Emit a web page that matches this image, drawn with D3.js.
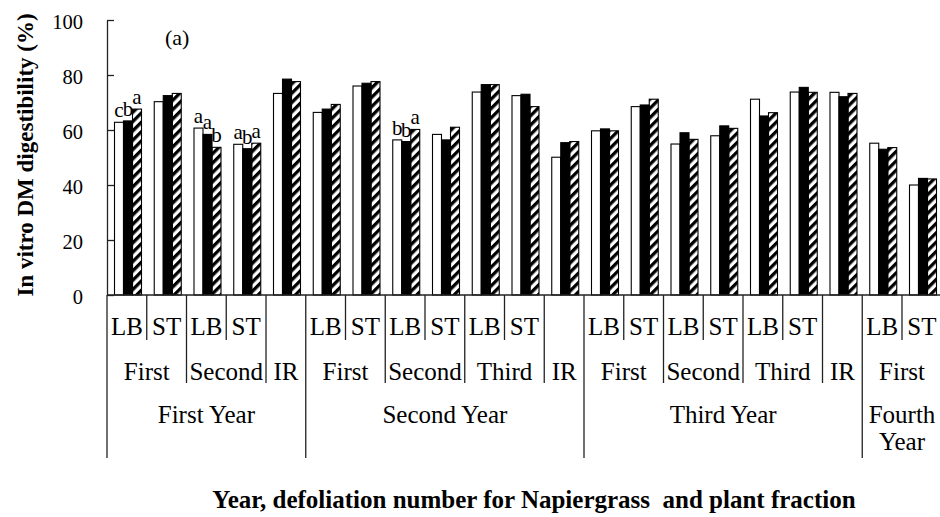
<!DOCTYPE html>
<html>
<head>
<meta charset="utf-8">
<script src="https://cdn.jsdelivr.net/npm/d3@7"></script>
<style>
  body { margin: 0; background: #fff; }
  svg text { font-family: "Liberation Serif", Tinos, "Times New Roman", Times, "DejaVu Serif", serif; fill: #000; }
</style>
</head>
<body>
<div id="chart"></div>
<script>
// one entry per bar group (21 groups)
const years = [
  'First Year', 'First Year', 'First Year', 'First Year', 'First Year',
  'Second Year', 'Second Year', 'Second Year', 'Second Year', 'Second Year', 'Second Year', 'Second Year',
  'Third Year', 'Third Year', 'Third Year', 'Third Year', 'Third Year', 'Third Year', 'Third Year',
  'Fourth Year', 'Fourth Year'
];
const defoliations = [
  'First', 'First', 'Second', 'Second', 'IR',
  'First', 'First', 'Second', 'Second', 'Third', 'Third', 'IR',
  'First', 'First', 'Second', 'Second', 'Third', 'Third', 'IR',
  'First', 'First'
];
const fractions = [
  'LB', 'ST', 'LB', 'ST', null,
  'LB', 'ST', 'LB', 'ST', 'LB', 'ST', null,
  'LB', 'ST', 'LB', 'ST', 'LB', 'ST', null,
  'LB', 'ST'
];

const seriesNames = ['open', 'solid', 'hatched'];
const openValues = [62.8, 70.3, 60.7, 54.8, 73.3, 66.4, 76.0, 56.4, 58.4, 73.8, 72.5, 50.1,
  59.7, 68.5, 54.9, 57.9, 71.2, 73.8, 73.7, 55.2, 40.0];
const solidValues = [63.3, 72.5, 58.4, 53.2, 78.5, 67.6, 77.0, 55.8, 56.4, 76.5, 73.0, 55.4,
  60.4, 69.1, 59.0, 61.5, 65.1, 75.5, 72.1, 53.0, 42.4];
const hatchedValues = [67.6, 73.3, 53.7, 55.2, 77.6, 69.3, 77.6, 60.2, 61.0, 76.5, 68.5, 55.8,
  59.7, 71.2, 56.6, 60.6, 66.3, 73.7, 73.3, 53.6, 42.2];

// significance letters: group index -> letters for open, solid, hatched
const sigGroups = [0, 2, 3, 7];
const sigLetters = [['c', 'b', 'a'], ['a', 'a', 'b'], ['a', 'b', 'a'], ['b', 'b', 'a']];

const yTicks = [0, 20, 40, 60, 80, 100];

const values = { open: openValues, solid: solidValues, hatched: hatchedValues };
const nGroups = years.length;
const serif = '"Liberation Serif", Tinos, "Times New Roman", Times, "DejaVu Serif", serif';

const W = 940, H = 517;
const svg = d3.select('#chart')
  .append('svg')
  .attr('width', W)
  .attr('height', H)
  .attr('font-family', serif);

const defs = svg.append('defs');
defs.append('pattern')
    .attr('id', 'hatch')
    .attr('patternUnits', 'userSpaceOnUse')
    .attr('width', 6.6)
    .attr('height', 6.6)
    .attr('patternTransform', 'rotate(45)')
  .append('rect')
    .attr('width', 3.3)
    .attr('height', 6.6)
    .attr('fill', '#000');

const x0 = 107, groupW = 39.75;
const x = d3.scaleBand()
  .domain(d3.range(nGroups))
  .range([x0, x0 + nGroups * groupW]);
const xs = d3.scaleBand()
  .domain(seriesNames)
  .range([7.5, 34.5]);
const y = d3.scaleLinear()
  .domain([0, 100])
  .range([295, 20]);

// y axis
const yAxis = svg.append('g')
  .attr('transform', `translate(${x0},0)`)
  .call(d3.axisLeft(y).tickValues(yTicks).tickSize(-7).tickSizeOuter(0).tickPadding(24));
yAxis.attr('font-family', serif);
yAxis.select('.domain').attr('stroke', '#222').attr('stroke-width', 1.3);
yAxis.selectAll('.tick line').attr('stroke', '#222').attr('stroke-width', 1.3);
yAxis.selectAll('.tick text')
  .attr('font-size', 20.5)
  .attr('dy', '0.4em');

// bars
const fills = { open: '#fff', solid: '#000', hatched: 'url(#hatch)' };
seriesNames.forEach(s => {
  svg.append('g')
    .selectAll('rect')
    .data(values[s])
    .join('rect')
      .attr('x', (d, i) => x(i) + xs(s))
      .attr('y', d => y(d))
      .attr('width', xs.bandwidth())
      .attr('height', d => y(0) - y(d))
      .attr('fill', fills[s])
      .attr('stroke', '#000')
      .attr('stroke-width', 1.1);
});

// significance letters
sigGroups.forEach((g, k) => {
  svg.append('g')
    .selectAll('text')
    .data(sigLetters[k])
    .join('text')
      .attr('x', (d, j) => x(g) + xs(seriesNames[j]) + xs.bandwidth() / 2)
      .attr('y', (d, j) => y(values[seriesNames[j]][g]) - 5)
      .attr('text-anchor', 'middle')
      .attr('font-size', 21)
      .text(d => d);
});

// x axis line
svg.append('line')
  .attr('x1', x0).attr('x2', x0 + nGroups * groupW)
  .attr('y1', y(0)).attr('y2', y(0))
  .attr('stroke', '#222').attr('stroke-width', 1.3);

// dividers
const levelBottom = { 1: 340, 2: 383, 3: 458 };
const boundaries = d3.range(nGroups + 1).map(i => {
  let level = 1;
  if (i === 0 || i === nGroups || years[i] !== years[i - 1]) level = 3;
  else if (defoliations[i] !== defoliations[i - 1]) level = 2;
  return { i, level };
});
svg.append('g')
  .selectAll('line')
  .data(boundaries)
  .join('line')
    .attr('x1', d => x0 + d.i * groupW)
    .attr('x2', d => x0 + d.i * groupW)
    .attr('y1', y(0))
    .attr('y2', d => levelBottom[d.level])
    .attr('stroke', '#222')
    .attr('stroke-width', 1.3);

// row 1: plant fraction
svg.append('g')
  .selectAll('text')
  .data(fractions.map((f, i) => ({ f, i })).filter(d => d.f))
  .join('text')
    .attr('x', d => x(d.i) + groupW / 2)
    .attr('y', 335)
    .attr('text-anchor', 'middle')
    .attr('font-size', 25)
    .text(d => d.f);

// runs of consecutive equal keys
function runs(keyFn) {
  const out = [];
  for (let i = 0; i < nGroups; i++) {
    const k = keyFn(i);
    const last = out[out.length - 1];
    if (last && last.key === k) last.end = i + 1;
    else out.push({ key: k, start: i, end: i + 1 });
  }
  return out;
}

// row 2: defoliation number
const defRuns = runs(i => years[i] + '|' + defoliations[i]);
svg.append('g')
  .selectAll('text')
  .data(defRuns)
  .join('text')
    .attr('x', d => x0 + (d.start + d.end) / 2 * groupW)
    .attr('y', 380)
    .attr('text-anchor', 'middle')
    .attr('font-size', 25)
    .text(d => d.key.split('|')[1]);

// row 3: year
const yearRuns = runs(i => years[i]);
svg.append('g')
  .selectAll('text')
  .data(yearRuns)
  .join('text')
    .attr('x', d => x0 + (d.start + d.end) / 2 * groupW)
    .attr('y', 423)
    .attr('text-anchor', 'middle')
    .attr('font-size', 25)
    .each(function(d) {
      const t = d3.select(this);
      const span = (d.end - d.start) * groupW;
      t.text(d.key);
      if (this.getComputedTextLength() > span - 4) {
        t.text('');
        d.key.split(' ').forEach((w, k) => {
          t.append('tspan')
            .attr('x', x0 + (d.start + d.end) / 2 * groupW)
            .attr('dy', k === 0 ? 0 : 27)
            .text(w);
        });
      }
    });

// axis titles
svg.append('text')
  .attr('x', 534)
  .attr('y', 508)
  .attr('text-anchor', 'middle')
  .attr('font-size', 25)
  .attr('font-weight', 'bold')
  .style('white-space', 'pre')
  .text('Year, defoliation number for Napiergrass  and plant fraction');

svg.append('text')
  .attr('transform', 'translate(33,155) rotate(-90)')
  .attr('text-anchor', 'middle')
  .attr('font-size', 23)
  .attr('font-weight', 'bold')
  .text('In vitro DM digestibility (%)');

svg.append('text')
  .attr('x', 165)
  .attr('y', 45)
  .attr('font-size', 22)
  .text('(a)');
</script>
</body>
</html>
